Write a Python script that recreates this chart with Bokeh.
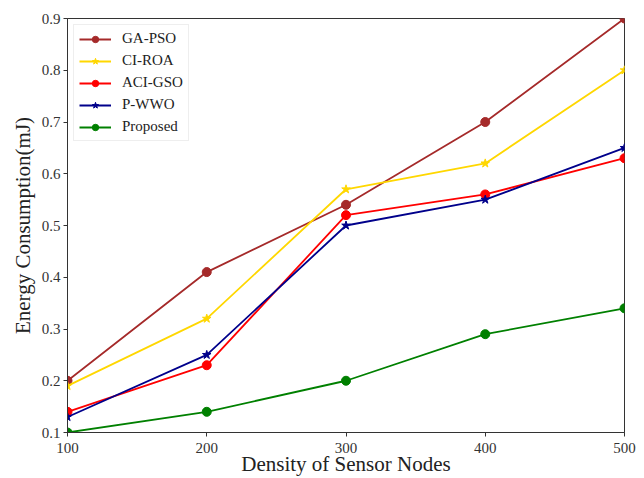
from bokeh.plotting import figure
from bokeh.models import FixedTicker, Range1d
from bokeh.embed import file_html
from bokeh.resources import INLINE

nodes = [100, 200, 300, 400, 500]
ga_pso = [0.20, 0.41, 0.54, 0.70, 0.90]
ci_roa = [0.19, 0.32, 0.57, 0.62, 0.80]
aci_gso = [0.14, 0.23, 0.52, 0.56, 0.63]
p_wwo = [0.13, 0.25, 0.50, 0.55, 0.65]
proposed = [0.10, 0.14, 0.20, 0.29, 0.34]
y_ticks = [0.1, 0.2, 0.3, 0.4, 0.5, 0.6, 0.7, 0.8, 0.9]

series = [
    ("GA-PSO", ga_pso, "#a52a2a", "circle", 9),
    ("CI-ROA", ci_roa, "#ffd700", "star", 9),
    ("ACI-GSO", aci_gso, "#ff0000", "circle", 9),
    ("P-WWO", p_wwo, "#00008b", "star", 9),
    ("Proposed", proposed, "#008000", "circle", 9),
]

FONT = "Liberation Serif"

p = figure(width=636, height=478, output_backend="svg", toolbar_location=None,
           x_range=Range1d(100, 500), y_range=Range1d(0.1, 0.9),
           min_border_left=67, min_border_right=12, min_border_top=18, min_border_bottom=44)

for name, vals, color, marker, size in series:
    p.line(nodes, vals, color=color, line_width=1.8, legend_label=name)
    p.scatter(nodes, vals, color=color, marker=marker, size=size, legend_label=name)

p.xgrid.visible = False
p.ygrid.visible = False
p.outline_line_color = "#333333"
p.outline_line_width = 1

p.xaxis.ticker = FixedTicker(ticks=nodes)
p.yaxis.ticker = FixedTicker(ticks=y_ticks)
for ax in (p.xaxis, p.yaxis):
    ax.minor_tick_line_color = None
    ax.major_tick_out = 4
    ax.major_tick_in = 0
    ax.axis_line_color = "#333333"
    ax.major_tick_line_color = "#333333"
    ax.major_label_text_font = FONT
    ax.major_label_text_font_size = "15px"
    ax.major_label_text_color = "#333333"
    ax.axis_label_text_font = FONT
    ax.axis_label_text_font_size = "21px"
    ax.axis_label_text_font_style = "normal"
    ax.axis_label_text_color = "#222222"
    ax.major_label_standoff = 3
    ax.axis_label_standoff = 1

p.xaxis.major_label_standoff = 6
p.xaxis.axis_label_standoff = -4
p.yaxis.axis_label_standoff = 4

p.xaxis.axis_label = "Density of Sensor Nodes"
p.yaxis.axis_label = "Energy Consumption(mJ)"

p.legend.location = "top_left"
p.legend.label_text_font = FONT
p.legend.label_text_font_size = "15px"
p.legend.label_text_color = "#222222"
p.legend.border_line_color = "#dddddd"
p.legend.border_line_width = 1
p.legend.glyph_width = 32
p.legend.glyph_height = 16
p.legend.label_height = 16
p.legend.spacing = 5
p.legend.padding = 5
p.legend.margin = 6
p.legend.label_standoff = 11

open("out.html", "w").write(file_html(p, INLINE))
